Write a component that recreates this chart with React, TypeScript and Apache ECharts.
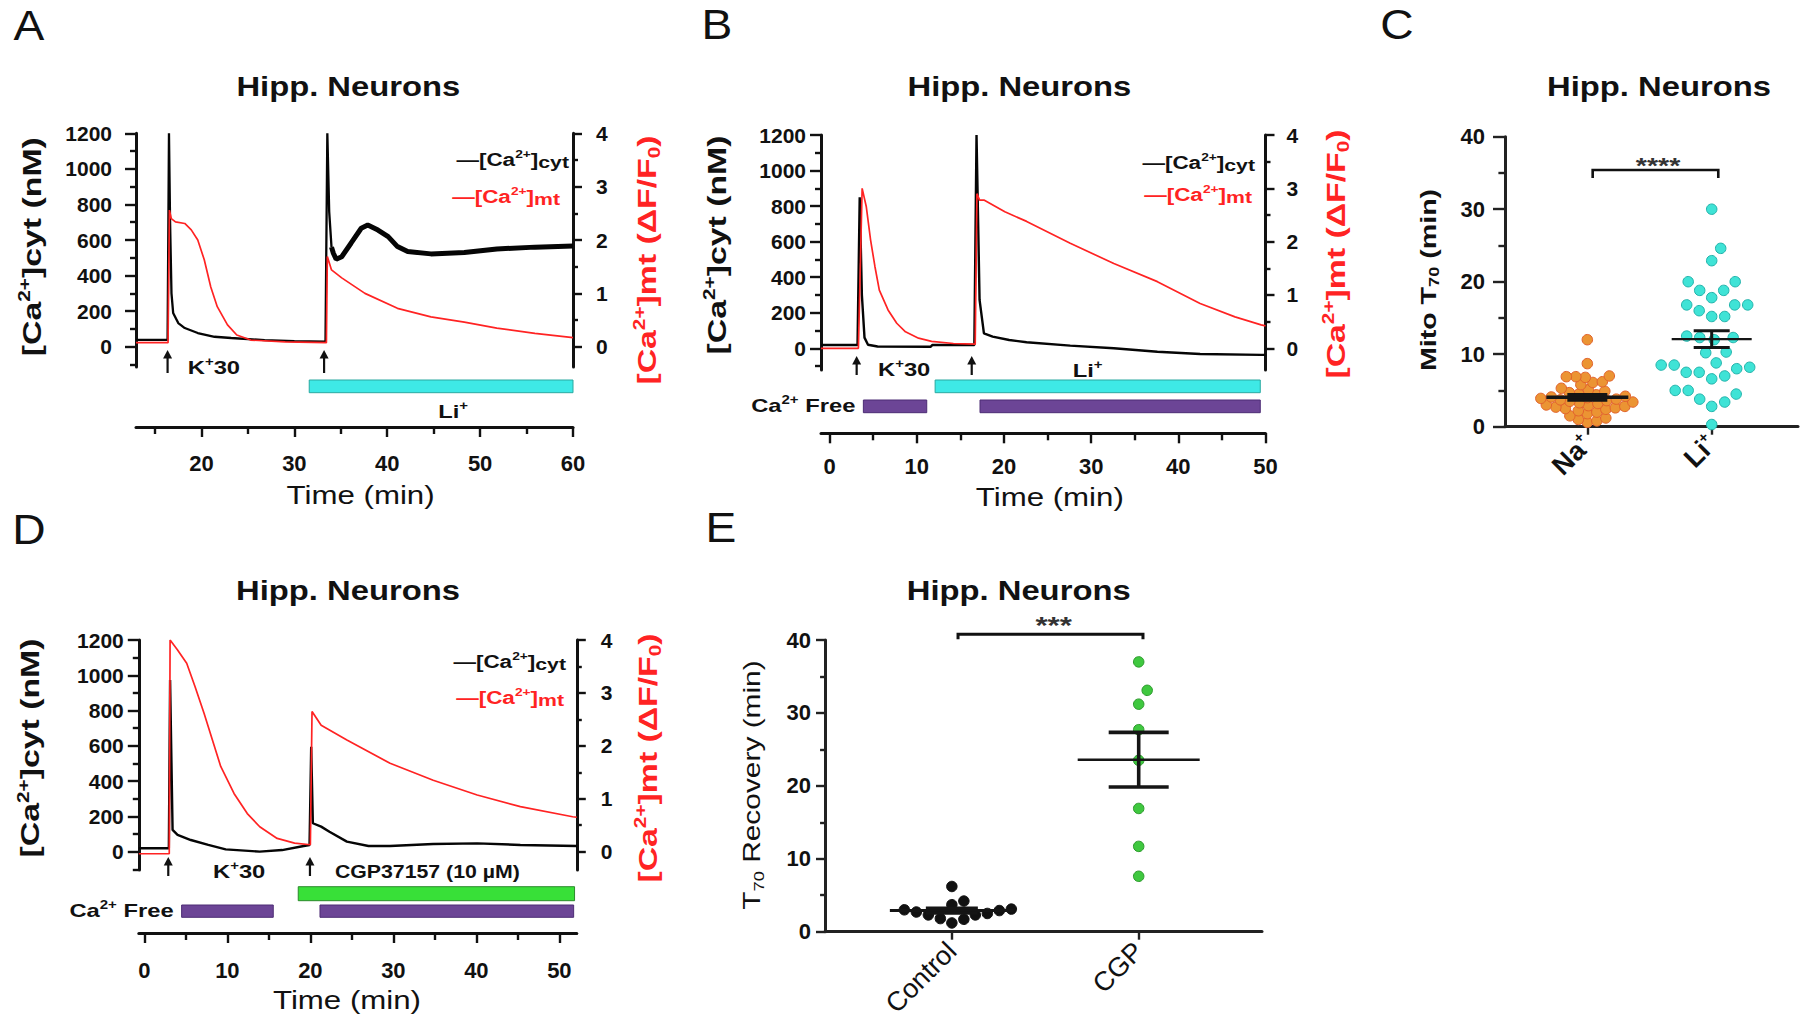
import React, { useEffect, useRef } from 'react';
import * as echarts from 'echarts';

// ======================= DATA =======================
// Panel A — Li+ experiment: time (min), [Ca2+]cyt (nM), [Ca2+]mt (ΔF/F0)
const cytA_early: [number, number][] = [
  [12.95, 38], [16.35, 38], [16.5, 1200], [16.62, 700], [16.77, 300], [16.95, 190], [17.5, 133],
  [18.2, 105], [19.6, 77], [21.4, 56], [23.2, 49], [26.8, 37], [30.0, 32], [33.35, 28],
  [33.55, 1200], [33.75, 760], [34.0, 560],
];
const cytA_late: [number, number][] = [
  [34.0, 560], [34.2, 526], [34.5, 492], [35.1, 506], [36.1, 582], [37.2, 666], [37.9, 684],
  [39.0, 656], [40.1, 619], [41.1, 563], [42.2, 535], [44.7, 522], [48.3, 530], [51.8, 550],
  [55.9, 560], [60.0, 566],
];
const mtA: [number, number][] = [
  [12.95, 0.075], [16.4, 0.075], [16.55, 2.56], [16.75, 2.4], [17.2, 2.34], [18.2, 2.31],
  [18.9, 2.19], [19.6, 2.0], [20.3, 1.63], [21.0, 1.12], [21.7, 0.75], [22.8, 0.41],
  [23.8, 0.22], [25.3, 0.125], [29.0, 0.09], [33.45, 0.075], [33.55, 1.69], [34.0, 1.44],
  [35.1, 1.29], [37.6, 1.0], [41.1, 0.72], [44.7, 0.56], [48.3, 0.46], [51.8, 0.35],
  [55.9, 0.25], [60.0, 0.17],
];
const stimA = [16.35, 33.2];
const liA: [number, number][] = [[31.6, 60]];

// Panel B — Li+ with Ca2+-free
const cytB: [number, number][] = [
  [-0.99, 19], [3.2, 19], [3.45, 850], [3.7, 300], [4.0, 60], [4.4, 20], [5.5, 10], [11.6, 9],
  [11.8, 19], [16.6, 19], [16.85, 1200], [17.2, 272], [17.7, 84], [18.7, 66], [20.6, 47],
  [22.6, 34], [27.6, 15], [32.6, 0], [37.6, -19], [42.5, -32], [49.5, -37], [50.0, -37],
];
const mtB: [number, number][] = [
  [-0.99, 0], [3.3, 0], [3.73, 3.0], [4.2, 2.66], [4.7, 2.03], [5.2, 1.53], [5.7, 1.09],
  [6.7, 0.72], [7.7, 0.47], [8.7, 0.31], [10.2, 0.19], [11.7, 0.13], [14.2, 0.09], [16.7, 0.08],
  [16.9, 2.9], [17.2, 2.78], [17.7, 2.78], [20.1, 2.56], [22.6, 2.38], [27.6, 1.97],
  [32.6, 1.59], [37.6, 1.25], [42.5, 0.84], [46.5, 0.59], [49.5, 0.44], [50.0, 0.42],
];
const stimB = [3.1, 16.3];
const liB: [number, number][] = [[12.1, 49.4]];
const caFreeB: [number, number][] = [[3.87, 11.14], [17.25, 49.4]];

// Panel D — CGP37157
const cytD: [number, number][] = [
  [-0.67, 19], [2.95, 19], [3.1, 973], [3.4, 123], [4.0, 95], [5.6, 66], [7.7, 38], [9.8, 13],
  [13.9, 0], [16.6, 9], [19.2, 32], [19.9, 38], [20.1, 595], [20.3, 161], [21.3, 142],
  [22.3, 113], [24.4, 57], [27.0, 32], [29.6, 32], [34.8, 43], [40.1, 47], [45.3, 38], [52.1, 32],
];
const mtD: [number, number][] = [
  [-0.67, -0.04], [3.0, -0.04], [3.1, 4.0], [4.0, 3.81], [5.1, 3.56], [6.1, 3.12], [7.2, 2.61],
  [8.2, 2.11], [9.2, 1.61], [10.8, 1.1], [12.4, 0.72], [13.9, 0.47], [16.0, 0.25], [18.1, 0.16],
  [20.0, 0.13], [20.2, 2.65], [21.3, 2.39], [24.4, 2.11], [29.6, 1.67], [34.8, 1.35],
  [40.1, 1.07], [45.3, 0.85], [51.6, 0.66], [52.1, 0.65],
];
const stimD = [2.88, 19.95];
const cgpD: [number, number][] = [[18.54, 51.83]];
const caFreeD: [number, number][] = [[4.49, 15.53], [21.16, 51.72]];

// Panel C — Mito T70 (min)
const naT70 = [
  12.0, 8.7, 7.0, 6.9, 6.9, 6.8, 6.2, 6.1, 5.8, 5.3, 5.1, 4.9, 4.7, 4.5, 4.4, 4.2, 4.1, 4.0, 3.9,
  3.8, 3.7, 3.6, 3.5, 3.4, 3.3, 3.2, 3.0, 2.9, 2.8, 2.7, 2.6, 2.5, 2.4, 2.2, 2.0, 1.8, 1.5, 1.2,
  1.0, 0.8, 0.6,
];
const liT70 = [
  30.0, 24.6, 22.9, 20.0, 20.0, 18.8, 18.8, 17.8, 16.8, 16.8, 16.8, 16.0, 15.2, 15.2, 12.5, 12.3,
  12.3, 12.0, 10.3, 10.2, 8.8, 8.5, 8.5, 8.2, 8.0, 7.5, 7.5, 7.0, 6.6, 5.0, 5.0, 4.5, 3.8, 3.4,
  2.8, 0.3,
];
// Panel E — T70 recovery (min)
const controlT70 = [6.2, 4.2, 3.7, 3.1, 3.0, 2.9, 2.7, 2.5, 2.3, 2.3, 1.8, 1.7, 1.2];
const cgpT70 = [37.0, 33.1, 31.2, 27.7, 23.5, 16.9, 11.7, 7.6];

// Tick values
const cytTicks = [0, 200, 400, 600, 800, 1000, 1200];
const cytMinor = [-100, 100, 300, 500, 700, 900, 1100];
const mtTicks = [0, 1, 2, 3, 4];
const mtMinor = [0.5, 1.5, 2.5, 3.5];
const timeTicksA = [20, 30, 40, 50, 60];
const timeMinorA = [15, 25, 35, 45, 55];
const timeTicksBD = [0, 10, 20, 30, 40, 50];
const timeMinorBD = [5, 15, 25, 35, 45];

// ======================= STYLE =======================
const FONT = "'Liberation Sans', Arial, Helvetica, sans-serif";
const INK = '#111111';
const RED = '#ff2323';
const CYAN = '#3ee9e6';
const CYAN_EDGE = '#2aa9a0';
const PURPLE = '#6c4596';
const PURPLE_EDGE = '#4c2c74';
const GREEN = '#38e038';
const GREEN_EDGE = '#2a8a2a';

function rich(size: number, weight: string, color: string) {
  const small = Math.round(size * 0.62);
  const base = { fontFamily: FONT, fontWeight: weight, fill: color, color };
  return {
    a: { ...base, fontSize: size, lineHeight: Math.round(size * 1.2) },
    s: { ...base, fontSize: small, lineHeight: small, verticalAlign: 'top' },
    b: { ...base, fontSize: small, lineHeight: small, verticalAlign: 'bottom' },
    c: { ...base, fontSize: Math.round(size * 0.92), lineHeight: Math.round(size * 0.92), verticalAlign: 'bottom' },
  };
}

function label(x: number, y: number, text: string, size: number, o: any = {}) {
  const weight = o.weight || 'bold';
  const color = o.color || INK;
  const align = o.align || 'center';
  return {
    type: 'text', x, y, rotation: o.rot || 0, scaleX: o.sx || 1, z: 100, silent: true,
    style: {
      text, rich: rich(size, weight, color), fontSize: size, fontWeight: weight, fontFamily: FONT,
      fill: color, align, verticalAlign: 'middle', textAlign: align, textVerticalAlign: 'middle',
    },
  };
}

function mean(v: number[]) { return v.reduce((s, x) => s + x, 0) / v.length; }
function sem(v: number[]) {
  const m = mean(v);
  const sd = Math.sqrt(v.reduce((s, x) => s + (x - m) * (x - m), 0) / (v.length - 1));
  return sd / Math.sqrt(v.length);
}

// deterministic beeswarm: x offsets chosen so that dots keep an elliptical clearance (pixel space)
function swarm(values: number[], center: number, yPx: number, xPx: number, ax: number, ay: number): [number, number][] {
  const order = values.map((_, i) => i).sort((a, b) => values[a] - values[b]);
  const placed: [number, number][] = [];
  const out: [number, number][] = [];
  for (const i of order) {
    const y = values[i] * yPx;
    let best = 0;
    for (let k = 0; k < 1000; k++) {
      const step = Math.ceil(k / 2) * 0.5;
      const cand = k % 2 === 1 ? step : -step;
      let ok = true;
      for (const p of placed) {
        const dx = (p[0] - cand) / ax, dy = (p[1] - y) / ay;
        if (dx * dx + dy * dy < 1) { ok = false; break; }
      }
      if (ok) { best = cand; break; }
    }
    placed.push([best, y]);
    out.push([center + best / xPx, values[i]]);
  }
  return out;
}

const plain = (v: number) => String(v);

function buildOption() {
  const grid: any[] = [], xAxis: any[] = [], yAxis: any[] = [], series: any[] = [], graphic: any[] = [];
  const addGrid = (g: any) => { grid.push({ ...g, containLabel: false, outerBoundsMode: 'none', show: false }); return grid.length - 1; };
  const addX = (a: any) => { xAxis.push(a); return xAxis.length - 1; };
  const addY = (a: any) => { yAxis.push(a); return yAxis.length - 1; };
  const LINE = (w = 3, c = INK) => ({ show: true, onZero: false, lineStyle: { color: c, width: w } });
  const TICK = { color: INK, width: 2.4 };
  const tickFont = (size: number) => ({ fontSize: size, fontWeight: 'bold', fontFamily: FONT, color: INK, formatter: plain });
  const none = { show: false };

  // ---------- trace panels ----------
  function trace(c: any) {
    const w = c.right - c.left;
    const gM = addGrid({ left: c.left, top: c.top, width: w, height: c.bottom - c.top });
    const gB = addGrid({ left: c.left, top: c.bottom, width: w, height: c.axisY - c.bottom });
    const xM = addX({ type: 'value', gridIndex: gM, min: c.tMin, max: c.tMax, show: false, axisLine: { onZero: false } });
    const xB = addX({
      type: 'value', gridIndex: gB, min: c.tMin, max: c.tMax, position: 'bottom',
      axisLine: LINE(3), axisTick: { show: true, customValues: c.tTicks, length: 10, lineStyle: TICK },
      axisLabel: { show: true, customValues: c.tTicks, margin: c.xm, ...tickFont(22) }, splitLine: none,
    });
    addX({
      type: 'value', gridIndex: gB, min: c.tMin, max: c.tMax, position: 'bottom',
      axisLine: { show: false, onZero: false }, axisTick: { show: true, customValues: c.tMinor, length: 7, lineStyle: TICK },
      axisLabel: none, splitLine: none,
    });
    const yL = addY({
      type: 'value', gridIndex: gM, position: 'left', min: c.yMin, max: 1200,
      axisLine: LINE(3), axisTick: { show: true, customValues: cytTicks, length: 11, lineStyle: TICK },
      axisLabel: { show: true, customValues: cytTicks, margin: c.lm, ...tickFont(21) }, splitLine: none,
    });
    addY({
      type: 'value', gridIndex: gM, position: 'left', min: c.yMin, max: 1200,
      axisLine: { show: false, onZero: false }, axisTick: { show: true, customValues: cytMinor, length: 6, lineStyle: TICK },
      axisLabel: none, splitLine: none,
    });
    const yR = addY({
      type: 'value', gridIndex: gM, position: 'right', min: c.yMin / 300, max: 4,
      axisLine: LINE(3), axisTick: { show: true, customValues: mtTicks, length: 9, lineStyle: TICK },
      axisLabel: { show: true, customValues: mtTicks, margin: c.rm, ...tickFont(21) }, splitLine: none,
    });
    addY({
      type: 'value', gridIndex: gM, position: 'right', min: c.yMin / 300, max: 4,
      axisLine: { show: false, onZero: false }, axisTick: { show: true, customValues: mtMinor, length: 5, lineStyle: TICK },
      axisLabel: none, splitLine: none,
    });
    const yB = addY({ type: 'value', gridIndex: gB, min: 0, max: c.axisY - c.bottom, inverse: true, show: false, axisLine: { onZero: false } });

    c.cyt.forEach((d: any, i: number) => series.push({
      type: 'line', xAxisIndex: xM, yAxisIndex: yL, data: d, symbol: 'none', showSymbol: false,
      lineStyle: { color: '#050505', width: c.cytW[i] }, silent: true, z: 3,
    }));
    series.push({
      type: 'line', xAxisIndex: xM, yAxisIndex: yR, data: c.mt, symbol: 'none', showSymbol: false,
      lineStyle: { color: RED, width: 1.7 }, silent: true, z: 4,
    });
    // stimulus arrows
    series.push({
      type: 'custom', xAxisIndex: xB, yAxisIndex: yB, silent: true, z: 6,
      data: c.stim.map((t: number) => [t, 0]),
      renderItem: (_p: any, api: any) => {
        const pt = api.coord([api.value(0), c.arrowTop]);
        const x = pt[0], y = pt[1];
        return {
          type: 'group', children: [
            { type: 'line', shape: { x1: x, y1: y + 6, x2: x, y2: y + c.arrowLen }, style: { stroke: INK, lineWidth: 2.2 } },
            { type: 'polygon', shape: { points: [[x, y], [x - 4.5, y + 8.5], [x + 4.5, y + 8.5]] }, style: { fill: INK } },
          ],
        };
      },
    });
    // treatment bars
    c.bars.forEach((b: any) => series.push({
      type: 'custom', xAxisIndex: xB, yAxisIndex: yB, silent: true, z: 5, data: b.spans,
      renderItem: (_p: any, api: any) => {
        const a = api.coord([api.value(0), b.row]);
        const e = api.coord([api.value(1), b.row]);
        return { type: 'rect', shape: { x: a[0], y: a[1], width: e[0] - a[0], height: b.h }, style: { fill: b.fill, stroke: b.stroke, lineWidth: 1 } };
      },
    }));
    const tx = (t: number) => c.left + ((t - c.tMin) / (c.tMax - c.tMin)) * w;
    c.texts.forEach((t: any) => graphic.push(label(tx(t.t) + (t.dx || 0), c.bottom + t.row, t.text, 19, { align: t.align, sx: t.sx || 1.25 })));
  }

  trace({
    left: 136, right: 573, top: 133.3, bottom: 367, axisY: 427, tMin: 12.95, tMax: 60, yMin: -114,
    tTicks: timeTicksA, tMinor: timeMinorA, lm: 24, rm: 23, xm: 25,
    cyt: [cytA_early, cytA_late], cytW: [2.3, 5], mt: mtA, stim: stimA, arrowTop: -17, arrowLen: 23,
    bars: [{ spans: liA, row: 13, h: 12.7, fill: CYAN, stroke: CYAN_EDGE }],
    texts: [
      { t: 18.52, row: 1, text: '{a|K}{s|+}{a|30}', align: 'left' },
      { t: 47.1, row: 45, text: '{a|Li}{s|+}', align: 'center' },
    ],
  });
  trace({
    left: 821, right: 1265.5, top: 135, bottom: 370, axisY: 433.3, tMin: -0.99, tMax: 50, yMin: -122,
    tTicks: timeTicksBD, tMinor: timeMinorBD, lm: 15, rm: 21, xm: 22,
    cyt: [cytB], cytW: [2.4], mt: mtB, stim: stimB, arrowTop: -14, arrowLen: 19,
    bars: [
      { spans: liB, row: 10, h: 12.7, fill: CYAN, stroke: CYAN_EDGE },
      { spans: caFreeB, row: 30, h: 12.7, fill: PURPLE, stroke: PURPLE_EDGE },
    ],
    texts: [
      { t: 5.55, row: 0, text: '{a|K}{s|+}{a|30}', align: 'left' },
      { t: 29.6, row: 1, text: '{a|Li}{s|+}', align: 'center' },
      { t: caFreeB[0][0], dx: -8, row: 36, text: '{a|Ca}{s|2+}{a| Free}', align: 'right' },
    ],
  });
  trace({
    left: 138.8, right: 576.8, top: 640, bottom: 870, axisY: 933, tMin: -0.67, tMax: 52.1, yMin: -104,
    tTicks: timeTicksBD, tMinor: timeMinorBD, lm: 15, rm: 24, xm: 26,
    cyt: [cytD], cytW: [2.4], mt: mtD, stim: stimD, arrowTop: -13, arrowLen: 19,
    bars: [
      { spans: cgpD, row: 16.7, h: 14, fill: GREEN, stroke: GREEN_EDGE },
      { spans: caFreeD, row: 35, h: 12.3, fill: PURPLE, stroke: PURPLE_EDGE },
    ],
    texts: [
      { t: 8.27, row: 2, text: '{a|K}{s|+}{a|30}', align: 'left' },
      { t: 22.96, row: 1, text: '{a|CGP37157 (10 µM)}', align: 'left', sx: 1.12 },
      { t: caFreeD[0][0], dx: -8, row: 41, text: '{a|Ca}{s|2+}{a| Free}', align: 'right' },
    ],
  });

  // ---------- dot plots ----------
  function dots(c: any) {
    const g = addGrid({ left: c.left, top: c.top, width: c.width, height: c.height });
    const xPx = c.width / (c.xMax - c.xMin);
    const yPx = c.height / 40;
    const x = addX({
      type: 'value', gridIndex: g, min: c.xMin, max: c.xMax, position: 'bottom',
      axisLine: LINE(3, '#222'), axisTick: { show: true, customValues: [1, 2], length: 8, lineStyle: { color: '#222', width: 2.4 } },
      axisLabel: {
        show: true, customValues: [1, 2], rotate: 45, margin: c.catMargin,
        formatter: (v: number) => c.cats[Math.round(v) - 1],
        rich: {
          n: { fontSize: c.catSize, fontWeight: c.catWeight, fontFamily: FONT, color: INK, lineHeight: c.catSize + 4 },
          p: { fontSize: 15, fontWeight: 'bold', fontFamily: FONT, color: INK, verticalAlign: 'top', lineHeight: 15 },
        },
      },
      splitLine: none,
    });
    const y = addY({
      type: 'value', gridIndex: g, min: 0, max: 40, interval: 10, position: 'left',
      axisLine: LINE(3, '#222'), axisTick: { show: true, length: c.tickLen, lineStyle: { color: '#222', width: 2.4 } },
      minorTick: { show: true, splitNumber: 2, length: c.tickLen * 0.55, lineStyle: { color: '#222', width: 2.4 } },
      axisLabel: { show: true, margin: c.ym, ...tickFont(22) }, splitLine: none, minorSplitLine: none,
    });
    c.groups.forEach((grp: any, gi: number) => series.push({
      type: 'scatter', xAxisIndex: x, yAxisIndex: y, silent: true, z: 5,
      data: swarm(grp.values, gi + 1, yPx, xPx, grp.ax, grp.ay),
      symbol: 'circle', symbolSize: c.dot,
      itemStyle: { color: grp.fill, borderColor: grp.stroke, borderWidth: 1, opacity: 1 },
    }));
    series.push({
      type: 'custom', xAxisIndex: x, yAxisIndex: y, silent: true, z: 10,
      data: c.groups.map((grp: any, gi: number) => [gi + 1, mean(grp.values), sem(grp.values)]),
      renderItem: (p: any, api: any) => {
        const grp = c.groups[p.dataIndex];
        const cx = api.value(0), m = api.value(1), s = api.value(2);
        const pm = api.coord([cx, m]), ph = api.coord([cx, m + s]), pl = api.coord([cx, m - s]);
        const st = (lw: number) => ({ stroke: '#151515', lineWidth: lw });
        return {
          type: 'group', children: [
            { type: 'line', shape: { x1: pm[0] - grp.meanHalf, y1: pm[1], x2: pm[0] + grp.meanHalf, y2: pm[1] }, style: st(grp.meanW) },
            { type: 'line', shape: { x1: ph[0], y1: ph[1], x2: pl[0], y2: pl[1] }, style: st(grp.semW) },
            { type: 'line', shape: { x1: ph[0] - grp.capHalf, y1: ph[1], x2: ph[0] + grp.capHalf, y2: ph[1] }, style: st(grp.semW) },
            { type: 'line', shape: { x1: pl[0] - grp.capHalf, y1: pl[1], x2: pl[0] + grp.capHalf, y2: pl[1] }, style: st(grp.semW) },
          ],
        };
      },
    });
    series.push({
      type: 'custom', xAxisIndex: x, yAxisIndex: y, silent: true, z: 10,
      data: [[c.bracket[0], c.bracket[1], c.bracket[2]]],
      renderItem: (_p: any, api: any) => {
        const a = api.coord([api.value(0), api.value(2)]);
        const b = api.coord([api.value(1), api.value(2)]);
        return {
          type: 'polyline',
          shape: { points: [[a[0], a[1] + c.drop], [a[0], a[1]], [b[0], b[1]], [b[0], b[1] + c.drop]] },
          style: { stroke: INK, lineWidth: c.bracketW, fill: 'none' },
        };
      },
    });
  }

  dots({
    left: 1505, top: 136.7, width: 293, height: 290, xMin: 0.338, xMax: 2.694,
    cats: ['{n|Na}{p|+}', '{n|Li}{p|+}'], catSize: 27, catWeight: 'bold', catMargin: 13,
    tickLen: 12, ym: 20, dot: 10.5,
    groups: [
      { values: naT70, fill: '#eb9433', stroke: '#e2622c', ax: 9.5, ay: 8, meanHalf: 41, meanW: 3.5, capHalf: 20, semW: 3.5 },
      { values: liT70, fill: '#3fe3d6', stroke: '#22b3ab', ax: 13, ay: 17, meanHalf: 40, meanW: 2.2, capHalf: 18, semW: 3 },
    ],
    bracket: [1.043, 2.053, 35.4], drop: 8, bracketW: 2.6,
  });
  dots({
    left: 825, top: 640, width: 437, height: 291.7, xMin: 0.321, xMax: 2.66,
    cats: ['{n|Control}', '{n|CGP}'], catSize: 27, catWeight: 'normal', catMargin: 15,
    tickLen: 9, ym: 14, dot: 10.5,
    groups: [
      { values: controlT70, fill: '#111111', stroke: '#111111', ax: 12, ay: 15, meanHalf: 62, meanW: 3, capHalf: 26, semW: 3 },
      { values: cgpT70, fill: '#3fc83f', stroke: '#2c9a2c', ax: 16, ay: 16, meanHalf: 61, meanW: 2.4, capHalf: 30, semW: 3.6 },
    ],
    bracket: [1.033, 2.023, 40.8], drop: 5, bracketW: 3,
  });

  // ---------- texts ----------
  const T = 'Hipp. Neurons';
  graphic.push(label(348.3, 86, T, 28, { sx: 1.17 }));
  graphic.push(label(1019.4, 86, T, 28, { sx: 1.17 }));
  graphic.push(label(1659, 86, T, 28, { sx: 1.17 }));
  graphic.push(label(348, 590, T, 28, { sx: 1.17 }));
  graphic.push(label(1018.7, 590, T, 28, { sx: 1.17 }));

  const letters: [string, number, number][] = [['A', 29, 25], ['B', 717, 24], ['C', 1397, 24], ['D', 29, 529], ['E', 721, 527]];
  letters.forEach(([s, x, y]) => graphic.push(label(x, y, s, 42, { weight: 'normal', sx: 1.1 })));

  const cytLabel = '{a|[Ca}{s|2+}{a|]cyt (nM)}';
  const mtLabel = '{a|[Ca}{s|2+}{a|]mt (ΔF/F}{b|0}{a|)}';
  const R = Math.PI / 2;
  graphic.push(label(31.7, 246.7, cytLabel, 26, { rot: R, sx: 1.3 }));
  graphic.push(label(647, 260, mtLabel, 26, { rot: R, sx: 1.3, color: RED }));
  graphic.push(label(717, 245, cytLabel, 26, { rot: R, sx: 1.3 }));
  graphic.push(label(1336, 254, mtLabel, 26, { rot: R, sx: 1.3, color: RED }));
  graphic.push(label(30.4, 748, cytLabel, 26, { rot: R, sx: 1.3 }));
  graphic.push(label(648, 758, mtLabel, 26, { rot: R, sx: 1.3, color: RED }));

  graphic.push(label(360.6, 495, 'Time (min)', 25, { weight: 'normal', sx: 1.25 }));
  graphic.push(label(1049.8, 497, 'Time (min)', 25, { weight: 'normal', sx: 1.25 }));
  graphic.push(label(347, 1000, 'Time (min)', 25, { weight: 'normal', sx: 1.25 }));

  graphic.push(label(1428.3, 280, '{a|Mito T}{b|70}{a| (min)}', 22, { rot: R, sx: 1.3 }));
  graphic.push(label(751.8, 785, '{a|T}{b|70}{a| Recovery (min)}', 23, { rot: R, sx: 1.3, weight: 'normal' }));

  const legCyt = '{a|—[Ca}{s|2+}{a|]}{c|cyt}';
  const legMt = '{a|—[Ca}{s|2+}{a|]}{c|mt}';
  const leg = (x: number, y: number, t: string, color: string) => graphic.push(label(x, y, t, 18, { align: 'right', sx: 1.25, color }));
  leg(569, 160, legCyt, INK); leg(560, 197, legMt, RED);
  leg(1255, 163, legCyt, INK); leg(1252, 195, legMt, RED);
  leg(566, 662, legCyt, INK); leg(564, 698, legMt, RED);

  graphic.push(label(1658, 165, '****', 22, { sx: 1.3, color: '#333' }));
  graphic.push(label(1053.6, 625.5, '***', 24, { sx: 1.3, color: '#333' }));

  return {
    animation: false,
    backgroundColor: '#ffffff',
    textStyle: { fontFamily: FONT },
    grid, xAxis, yAxis, series, graphic,
  };
}

export default function App() {
  const ref = useRef<HTMLDivElement>(null);
  useEffect(() => {
    const chart = echarts.init(ref.current as HTMLDivElement, null, { renderer: 'svg', width: 1800, height: 1033 });
    chart.setOption(buildOption() as any);
    return () => chart.dispose();
  }, []);
  return (
    <div
      ref={ref}
      style={{ position: 'absolute', left: 0, top: 0, width: 1800, height: 1033, background: '#fff' }}
    />
  );
}
